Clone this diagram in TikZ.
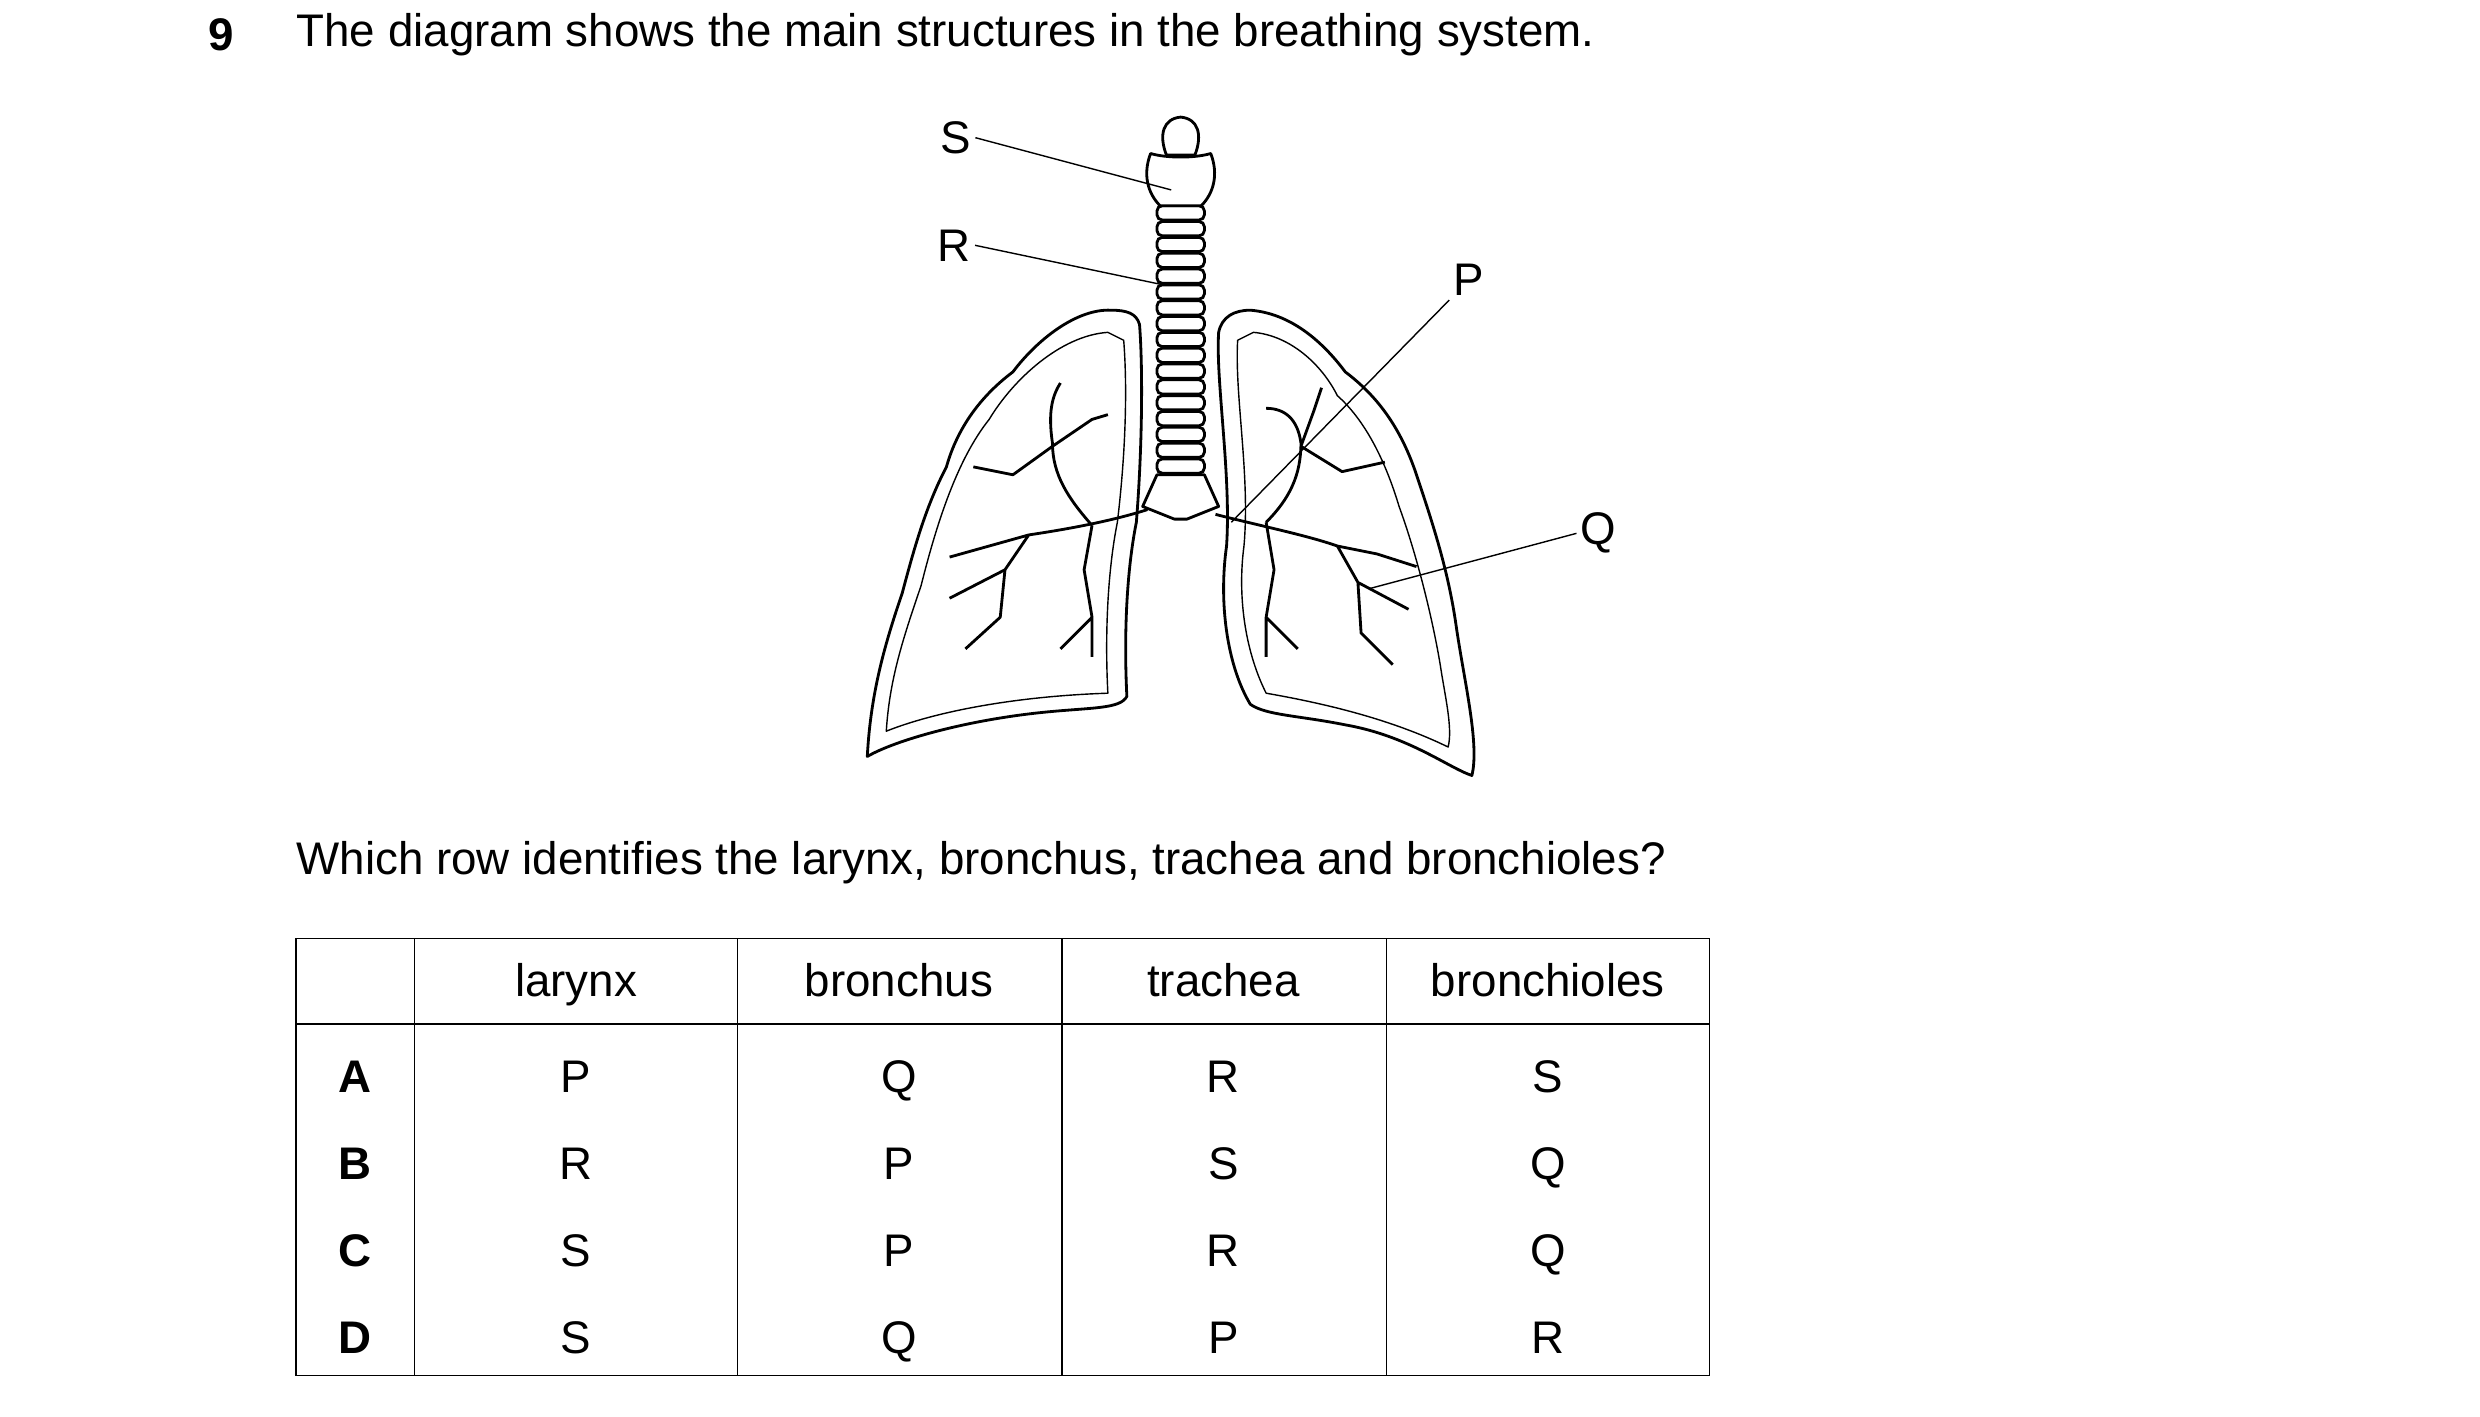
\documentclass[tikz,border=0pt]{standalone}
\usepackage{fontspec}
\setmainfont{Liberation Sans}
\usetikzlibrary{positioning}

\begin{document}
\begin{tikzpicture}[x=0.015826cm,y=-0.015826cm,font=\fontsize{13.0}{15}\selectfont]
    \tikzstyle{txt}=[anchor=west,inner sep=0pt]
    \tikzstyle{lbl}=[inner sep=1pt]
    \tikzstyle{cell}=[inner sep=0pt,text height=1.5ex,text depth=0.4ex]
    \tikzstyle{lead}=[thin,draw=black]
    \tikzstyle{organ}=[thick,draw=black,line join=round]
    \tikzstyle{ring}=[thick,draw=black,rounded corners=1.5,fill=white]

    \useasboundingbox (0,0) rectangle (1567,895);

    % question
    \node[txt,font=\fontsize{13.0}{15}\selectfont\bfseries] (qnum) at (131,22) {9};
    \node[txt] (qtext) at (187,22) {The diagram shows the main structures in the breathing system.};

    % left lung
    \draw[organ] (702,196) .. controls (680,195) and (655,215) .. (640,235)
      .. controls (620,250) and (605,270) .. (598,295)
      .. controls (585,320) and (578,345) .. (570,375)
      .. controls (558,410) and (550,440) .. (548,478)
      .. controls (565,468) and (610,455) .. (660,450)
      .. controls (690,447) and (708,448) .. (712,440)
      .. controls (710,400) and (712,360) .. (718,330)
      .. controls (722,280) and (722,230) .. (720,205)
      .. controls (718,198) and (712,196) .. (702,196) -- cycle;
    \draw[organ,thin] (700,210) .. controls (670,212) and (640,240) .. (625,265)
      .. controls (605,290) and (592,330) .. (582,370)
      .. controls (570,405) and (562,430) .. (560,462)
      .. controls (590,450) and (640,440) .. (700,438)
      .. controls (698,400) and (700,360) .. (706,330)
      .. controls (712,280) and (712,240) .. (710,215) -- cycle;
    % right lung
    \draw[organ] (790,196) .. controls (815,198) and (835,215) .. (850,235)
      .. controls (870,250) and (885,270) .. (895,300)
      .. controls (905,330) and (915,360) .. (920,395)
      .. controls (925,430) and (935,470) .. (930,490)
      .. controls (915,485) and (890,465) .. (850,458)
      .. controls (820,452) and (800,452) .. (790,445)
      .. controls (775,420) and (770,380) .. (775,345)
      .. controls (778,300) and (768,240) .. (770,210)
      .. controls (772,200) and (780,196) .. (790,196) -- cycle;
    \draw[organ,thin] (792,210) .. controls (815,212) and (835,230) .. (845,250)
      .. controls (862,265) and (875,290) .. (884,320)
      .. controls (895,350) and (905,390) .. (910,420)
      .. controls (913,440) and (918,460) .. (915,472)
      .. controls (880,455) and (840,445) .. (800,438)
      .. controls (786,410) and (782,375) .. (786,345)
      .. controls (790,300) and (780,250) .. (782,215) -- cycle;

    % bronchi and bronchioles
    \draw[organ] (725,322) .. controls (700,330) and (670,335) .. (650,338)
      (690,332) .. controls (675,315) and (665,300) .. (665,280)
      (665,280) .. controls (662,260) and (665,250) .. (670,242)
      (665,282) -- (640,300) -- (615,295)
      (650,338) -- (625,345) -- (600,352)
      (650,338) -- (635,360) -- (600,378)
      (635,360) -- (632,390) -- (610,410)
      (690,332) -- (685,360) -- (690,390) -- (690,415)
      (690,390) -- (670,410)
      (665,282) -- (690,265) -- (700,262);
    \draw[organ] (768,325) .. controls (795,332) and (825,338) .. (845,345)
      (800,330) .. controls (815,315) and (822,300) .. (822,280)
      (822,280) .. controls (820,265) and (812,258) .. (800,258)
      (822,282) -- (848,298) -- (875,292)
      (845,345) -- (870,350) -- (895,358)
      (845,345) -- (858,368) -- (890,385)
      (858,368) -- (860,400) -- (880,420)
      (800,330) -- (805,360) -- (800,390) -- (800,415)
      (800,390) -- (820,410)
      (822,282) -- (830,260) -- (835,245);

    % trachea and larynx
    \foreach \yy in {130,140,...,300} {
      \draw[ring] (731,\yy) rectangle (761,\yy+9);
    }
    \draw[organ,fill=white] (727,97) .. controls (722,110) and (725,122) .. (733,130)
      -- (759,130) .. controls (767,122) and (770,110) .. (765,97)
      .. controls (755,100) and (737,100) .. (727,97) -- cycle;
    \draw[organ,fill=white] (737,98) .. controls (732,85) and (735,75) .. (746,74)
      .. controls (757,75) and (760,85) .. (755,98) -- cycle;
    \draw[organ,fill=white] (731,300) -- (761,300) -- (770,320) -- (750,328) -- (742,328) -- (722,320) -- cycle;

    % labels and leader lines
    \node[lbl] (labS) at (604,87) {S};
    \node[lbl] (labR) at (603,155) {R};
    \node[lbl] (labP) at (928,177) {P};
    \node[lbl] (labQ) at (1010,337) {Q};
    \coordinate (tipS) at (740,120);
    \coordinate (tipR) at (735,180);
    \coordinate (tipP) at (778,330);
    \coordinate (tipQ) at (865,372);
    \draw[lead] (labS.east) -- (tipS);
    \draw[lead] (labR.east) -- (tipR);
    \draw[lead] (labP.south west) -- (tipP);
    \draw[lead] (labQ.west) -- (tipQ);

    \node[txt] (ask) at (187,545) {Which row identifies the larynx, bronchus, trachea and bronchioles?};

    % table
    \draw[thin] (187,593) rectangle (1080,869);
    \draw[thin] (187,647) -- (1080,647);
    \foreach \xx in {262,466,671,876} {
      \draw[thin] (\xx,593) -- (\xx,869);
    }
    \node[cell] (h1) at (364,623) {larynx};
    \node[cell] (h2) at (568,623) {bronchus};
    \node[cell] (h3) at (773,623) {trachea};
    \node[cell] (h4) at (978,623) {bronchioles};
    \foreach \rw/\yy/\a/\b/\c/\d in {A/684/P/Q/R/S, B/739/R/P/S/Q, C/794/S/P/R/Q, D/849/S/Q/P/R} {
      \node[cell,font=\fontsize{13.0}{15}\selectfont\bfseries] (row\rw) at (224,\yy) {\rw};
      \node[cell] (row\rw1) at (364,\yy) {\a};
      \node[cell] (row\rw2) at (568,\yy) {\b};
      \node[cell] (row\rw3) at (773,\yy) {\c};
      \node[cell] (row\rw4) at (978,\yy) {\d};
    }
\end{tikzpicture}
\end{document}
